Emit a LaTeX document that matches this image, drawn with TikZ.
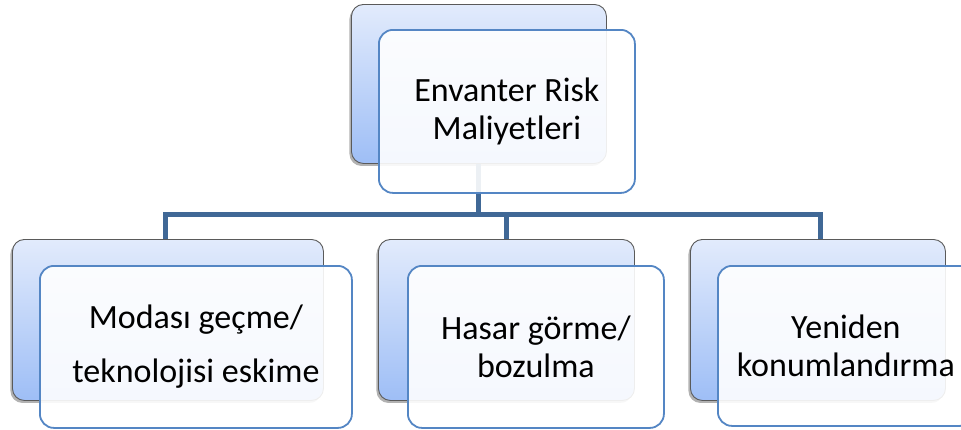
\documentclass[tikz,border=0pt]{standalone}
\usepackage{fontspec}
\setmainfont{Carlito}
\usetikzlibrary{shadows}
\definecolor{connblue}{RGB}{64,104,150}
\definecolor{frontedge}{RGB}{84,134,196}
\definecolor{backtop}{RGB}{226,235,252}
\definecolor{backbot}{RGB}{158,190,246}
\definecolor{backedge}{RGB}{90,90,90}
\tikzset{
  backbox/.style={draw=backedge, line width=0.9pt, rounded corners=12pt,
    top color=backtop, bottom color=backbot, inner sep=0pt, anchor=north west,
    drop shadow={shadow xshift=-2pt, shadow yshift=-2.5pt, opacity=0.3, fill=black}},
  frontbox/.style={draw=frontedge, line width=1.8pt, rounded corners=14pt,
    fill=white, fill opacity=0.9, text opacity=1, inner sep=0pt,
    align=center, font=\fontsize{34}{38}\selectfont, anchor=north west},
  conn/.style={draw=connblue, line width=5pt, line cap=butt, line join=miter}
}
\begin{document}
\begin{tikzpicture}[x=1pt,y=-1pt]
\useasboundingbox (0,0) rectangle (961,429);
% back boxes
\node[backbox, minimum width=255pt, minimum height=159pt] (topB) at (351,4) {};
\node[backbox, minimum width=311pt, minimum height=161pt] (leftB) at (12,239) {};
\node[backbox, minimum width=256pt, minimum height=161pt] (midB) at (378,239) {};
\node[backbox, minimum width=255pt, minimum height=161pt] (rightB) at (690,239) {};
% connectors
\coordinate (bus) at (478,214);
\draw[conn] (topB.south) -- (topB.south |- bus);
\draw[conn] ([xshift=-2.5pt]leftB.north) -- ([xshift=-2.5pt]leftB.north |- bus) -- ([xshift=2.5pt]rightB.north |- bus) -- ([xshift=2.5pt]rightB.north);
\draw[conn] (midB.north) -- (midB.north |- bus);
% front boxes
\node[frontbox, minimum width=256pt, minimum height=163pt] (topF) at (378,29) {Envanter Risk\\Maliyetleri};
\node[frontbox, minimum width=312pt, minimum height=162pt, font=\fontsize{34}{54}\selectfont] (leftF) at (39,265) {Modası geçme/\\teknolojisi eskime};
\node[frontbox, minimum width=256pt, minimum height=162pt] (midF) at (407,265) {Hasar görme/\\bozulma};
\node[frontbox, minimum width=256pt, minimum height=160pt] (rightF) at (717,265) {Yeniden\\konumlandırma};
\end{tikzpicture}
\end{document}
